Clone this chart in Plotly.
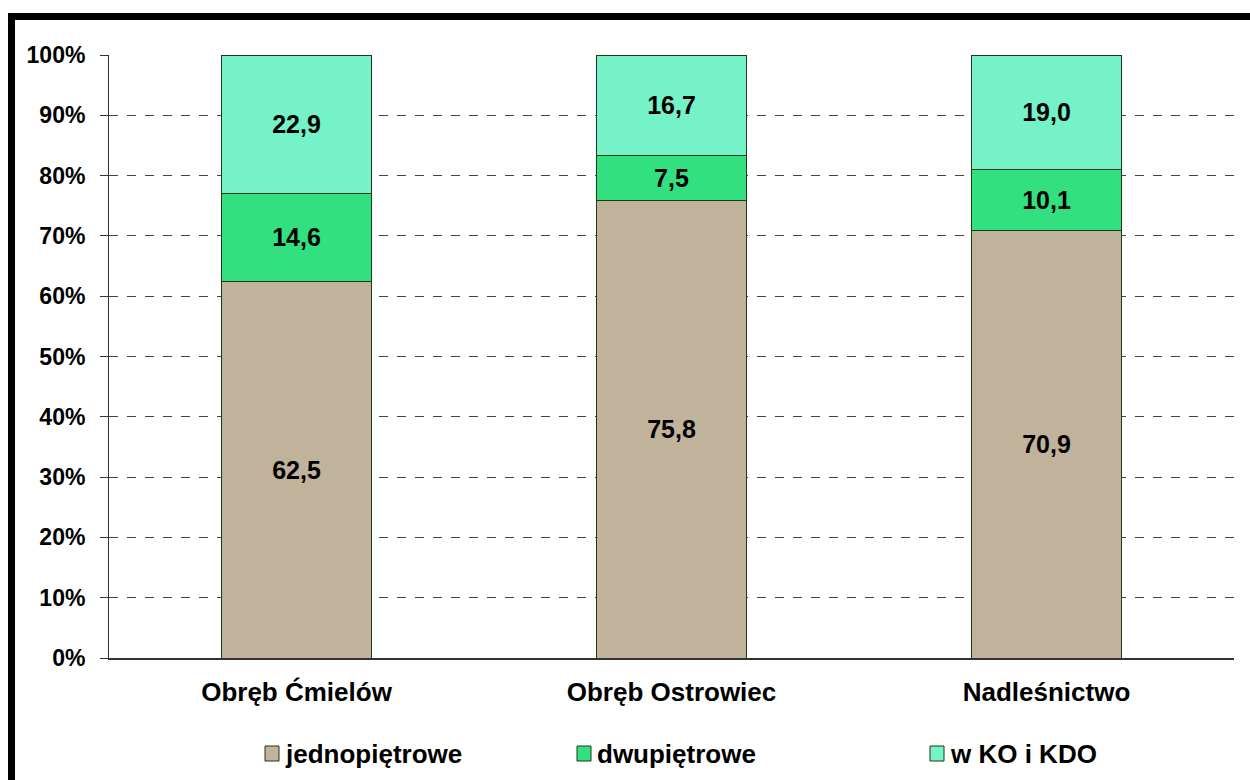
import plotly.graph_objects as go

categories = ["Obręb Ćmielów", "Obręb Ostrowiec", "Nadleśnictwo"]
series_names = ["jednopiętrowe", "dwupiętrowe", "w KO i KDO"]
jednopietrowe = [62.5, 75.8, 70.9]
dwupietrowe = [14.6, 7.5, 10.1]
w_ko_kdo = [22.9, 16.7, 19.0]
series_values = [jednopietrowe, dwupietrowe, w_ko_kdo]
colors = ["#C0B29B", "#33E080", "#75F2C8"]
y_ticks = [0, 10, 20, 30, 40, 50, 60, 70, 80, 90, 100]
y_tick_labels = [f"{v}%" for v in y_ticks]

FONT = "Liberation Sans, Arial, sans-serif"
W, H = 1250, 780
ML, MR, MT, MB = 109, 16, 55, 122
PW, PH = W - ML - MR, H - MT - MB

fig = go.Figure()
for name, vals, col in zip(series_names, series_values, colors):
    fig.add_trace(go.Bar(
        x=categories, y=vals, name=name,
        marker=dict(color=col, line=dict(color="#1B3B14", width=1)),
        texttemplate="%{y:.1f}", textposition="inside",
        insidetextanchor="middle", textangle=0,
        textfont=dict(family=FONT, size=25, color="black", weight="bold"),
        showlegend=False,
    ))

def px_x(p):
    return (p - ML) / PW

def px_y(p):
    return 1 - (p - MT) / PH

shapes = [dict(type="rect", xref="paper", yref="paper",
               x0=px_x(11.5), x1=px_x(1262), y0=px_y(16.5), y1=px_y(795),
               line=dict(color="black", width=7), fillcolor="rgba(0,0,0,0)", layer="above")]
annotations = []
legend_marker_x = [265, 577, 930]
for name, col, mx in zip(series_names, colors, legend_marker_x):
    shapes.append(dict(type="rect", xref="paper", yref="paper",
                       x0=px_x(mx), x1=px_x(mx + 14), y0=px_y(761), y1=px_y(746),
                       fillcolor=col, line=dict(color="#1B3B14", width=1)))
    annotations.append(dict(xref="paper", yref="paper", x=px_x(mx + 18), y=px_y(753.5),
                            xanchor="left", yanchor="middle", showarrow=False, text=name,
                            font=dict(family=FONT, size=26, color="black", weight="bold")))

fig.update_layout(
    barmode="stack", bargap=0.6,
    width=W, height=H,
    margin=dict(l=ML, r=MR, t=MT, b=MB),
    paper_bgcolor="white", plot_bgcolor="white",
    separators=", ",
    shapes=shapes, annotations=annotations,
)
fig.update_yaxes(
    range=[0, 100], tickmode="array", tickvals=y_ticks, ticktext=y_tick_labels,
    showgrid=True, gridcolor="#444444", griddash="dash", gridwidth=1,
    showline=True, linecolor="#333333", linewidth=1,
    ticks="outside", ticklen=8, tickcolor="#333333",
    zeroline=False, ticklabelstandoff=10,
    tickfont=dict(family=FONT, size=23, color="black", weight="bold"),
)
fig.update_xaxes(
    showline=True, linecolor="#333333", linewidth=1.5,
    ticks="", ticklabelstandoff=10,
    tickfont=dict(family=FONT, size=26, color="black", weight="bold"),
)
fig.write_html("out.html")
